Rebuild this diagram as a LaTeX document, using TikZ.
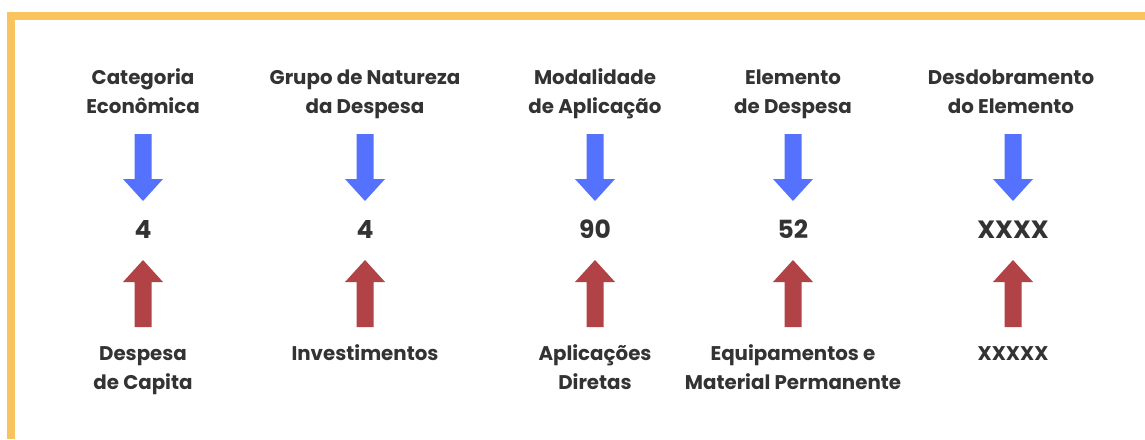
\documentclass[tikz,border=0pt]{standalone}
\usepackage{fontspec}
\setmainfont{Poppins}
\definecolor{frame}{HTML}{F9C460}
\definecolor{blu}{HTML}{5472FE}
\definecolor{redd}{HTML}{B14347}
\definecolor{txt}{HTML}{333333}
\tikzset{
  lbl/.style={anchor=base, align=center, inner sep=0pt, text=txt,
    font=\fontsize{19.8}{28.5}\selectfont\bfseries},
  num/.style={anchor=base, inner sep=0pt, text=txt,
    font=\fontsize{25}{28}\selectfont\bfseries},
}
\newcommand{\downarr}[1]{\fill[blu] (#1-8.5,134) -- (#1+8.5,134) -- (#1+8.5,179) -- (#1+20,179) -- (#1,201) -- (#1-20,179) -- (#1-8.5,179) -- cycle;}
\newcommand{\uparr}[1]{\fill[redd] (#1-8.5,327) -- (#1+8.5,327) -- (#1+8.5,282) -- (#1+20,282) -- (#1,260) -- (#1-20,282) -- (#1-8.5,282) -- cycle;}
\begin{document}
\begin{tikzpicture}[x=1pt,y=-1pt]
\useasboundingbox (0,0) rectangle (1145,439);
\fill[white] (0,0) rectangle (1145,439);
\fill[frame] (7,12) rectangle (1145,20);
\fill[frame] (7,12) rectangle (15,439);
% top labels (anchor = baseline of last line)
\node[lbl] (t1) at (143,113) {Categoria\\Econômica};
\node[lbl] (t2) at (365,113) {Grupo de Natureza\\da Despesa};
\node[lbl] (t3) at (595,113) {Modalidade\\de Aplicação};
\node[lbl] (t4) at (793,113) {Elemento\\de Despesa};
\node[lbl] (t5) at (1011,113) {Desdobramento\\do Elemento};
% numbers
\node[num] (n1) at (143,238) {4};
\node[num] (n2) at (365,238) {4};
\node[num] (n3) at (595,238) {90};
\node[num] (n4) at (793,238) {52};
\node[num] (n5) at (1013,238) {XXXX};
% bottom labels
\node[lbl] (b1) at (143,389) {Despesa\\de Capita};
\node[lbl] (b2) at (365,360) {Investimentos};
\node[lbl] (b3) at (595,389) {Aplicações\\Diretas};
\node[lbl] (b4) at (793,389) {Equipamentos e\\Material Permanente};
\node[lbl] (b5) at (1013,360) {XXXXX};
% arrows
\downarr{143}\downarr{365}\downarr{595}\downarr{793}\downarr{1013}
\uparr{143}\uparr{365}\uparr{595}\uparr{793}\uparr{1013}
\end{tikzpicture}
\end{document}
